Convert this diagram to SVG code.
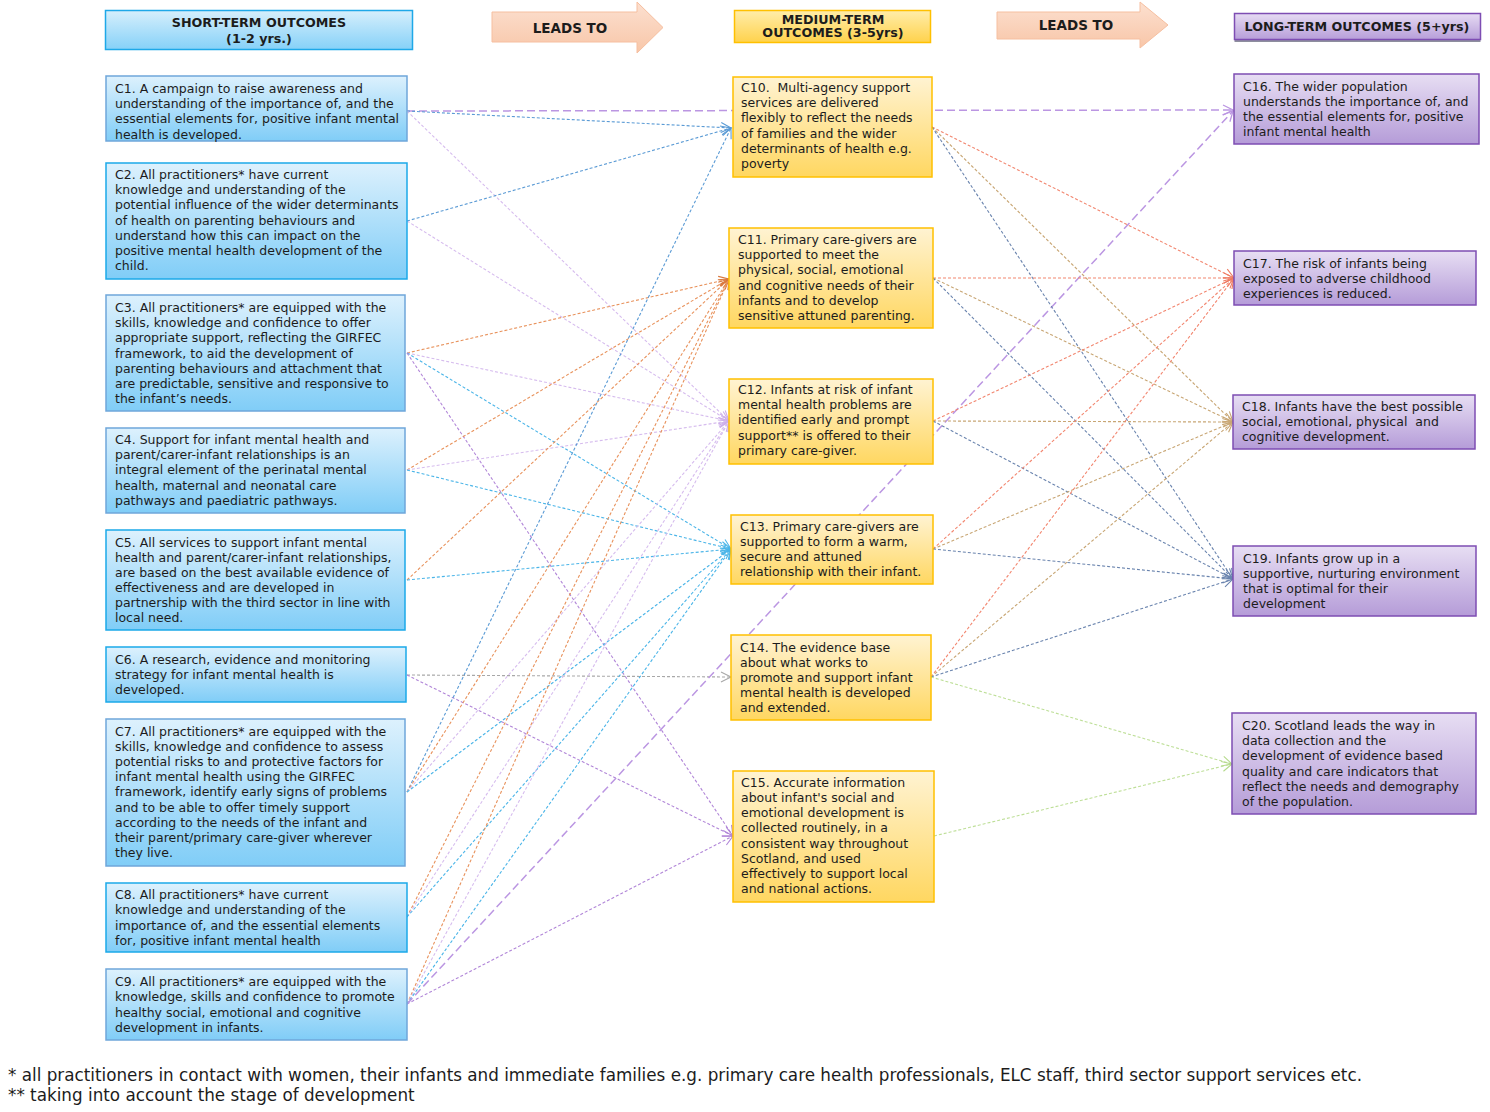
<svg xmlns="http://www.w3.org/2000/svg" width="1490" height="1112" viewBox="0 0 1490 1112">
<defs>
<style>
text{font-family:"DejaVu Sans","Liberation Sans",sans-serif;fill:#1c1c1c;white-space:pre}
.t{font-size:12.5px}
.h{font-size:12.7px;font-weight:bold;text-anchor:middle}
.lt{font-size:13.5px;font-weight:bold;text-anchor:middle}
.ft{font-size:16.8px}
.sb{fill:url(#gBlue);stroke:#6FA6DA;stroke-width:1.5}
.sc{fill:url(#gBlue);stroke:#1BA9E9;stroke-width:1.5}
.md{fill:url(#gYel);stroke:#FFC000;stroke-width:1.5}
.lg{fill:url(#gPur);stroke:#7E4DB3;stroke-width:1.5}
.c{fill:none;stroke-width:1.1;stroke-dasharray:3 2}
.blue{stroke:#5B9BD5;marker-end:url(#m-blue)}
.cyan{stroke:#4BB5E8;marker-end:url(#m-cyan)}
.orange{stroke:#E8925C;marker-end:url(#m-orange)}
.lilac{stroke:#D6BCEE;marker-end:url(#m-lilac)}
.purple{stroke:#B186D8;marker-end:url(#m-purple)}
.gray{stroke:#A8A8A8;marker-end:url(#m-gray)}
.dp{stroke:#BB96E2;stroke-width:1.5;stroke-dasharray:8 4;marker-end:url(#m-dp)}
.red{stroke:#F2866F;marker-end:url(#m-red)}
.tan{stroke:#C8A674;marker-end:url(#m-tan)}
.slate{stroke:#6A84AE;marker-end:url(#m-slate)}
.green{stroke:#BEDF98;marker-end:url(#m-green)}
</style>
<linearGradient id="gBlue" x1="0" y1="0" x2="0" y2="1"><stop offset="0" stop-color="#DDF1FD"/><stop offset="1" stop-color="#80CDF7"/></linearGradient>
<linearGradient id="gYel" x1="0" y1="0" x2="0" y2="1"><stop offset="0" stop-color="#FFF3D2"/><stop offset="1" stop-color="#FFD761"/></linearGradient>
<linearGradient id="gPur" x1="0" y1="0" x2="0" y2="1"><stop offset="0" stop-color="#E7DEF3"/><stop offset="1" stop-color="#B59CD8"/></linearGradient>
<linearGradient id="gHB" x1="0" y1="0" x2="0" y2="1"><stop offset="0" stop-color="#D6EFFC"/><stop offset="1" stop-color="#86D1F8"/></linearGradient>
<linearGradient id="gHY" x1="0" y1="0" x2="0" y2="1"><stop offset="0" stop-color="#FFEDAA"/><stop offset="1" stop-color="#FFD24C"/></linearGradient>
<linearGradient id="gHP" x1="0" y1="0" x2="0" y2="1"><stop offset="0" stop-color="#E6DBF3"/><stop offset="1" stop-color="#B79ED9"/></linearGradient>
<linearGradient id="gAr" x1="0" y1="0" x2="0" y2="1"><stop offset="0" stop-color="#FCE0D0"/><stop offset="1" stop-color="#F8C6A8"/></linearGradient>
<marker id="m-blue" markerUnits="userSpaceOnUse" markerWidth="12" markerHeight="12" refX="10" refY="5" orient="auto" overflow="visible"><path d="M0,0 L10,5 L0,10" fill="none" stroke="#5B9BD5" stroke-width="1.1"/></marker>
<marker id="m-cyan" markerUnits="userSpaceOnUse" markerWidth="12" markerHeight="12" refX="10" refY="5" orient="auto" overflow="visible"><path d="M0,0 L10,5 L0,10" fill="none" stroke="#4BB5E8" stroke-width="1.1"/></marker>
<marker id="m-orange" markerUnits="userSpaceOnUse" markerWidth="12" markerHeight="12" refX="10" refY="5" orient="auto" overflow="visible"><path d="M0,0 L10,5 L0,10" fill="none" stroke="#D9783E" stroke-width="1.1"/></marker>
<marker id="m-lilac" markerUnits="userSpaceOnUse" markerWidth="12" markerHeight="12" refX="10" refY="5" orient="auto" overflow="visible"><path d="M0,0 L10,5 L0,10" fill="none" stroke="#CDAEEA" stroke-width="1.1"/></marker>
<marker id="m-purple" markerUnits="userSpaceOnUse" markerWidth="12" markerHeight="12" refX="10" refY="5" orient="auto" overflow="visible"><path d="M0,0 L10,5 L0,10" fill="none" stroke="#B186D8" stroke-width="1.1"/></marker>
<marker id="m-gray" markerUnits="userSpaceOnUse" markerWidth="12" markerHeight="12" refX="10" refY="5" orient="auto" overflow="visible"><path d="M0,0 L10,5 L0,10" fill="none" stroke="#A8A8A8" stroke-width="1.1"/></marker>
<marker id="m-dp" markerUnits="userSpaceOnUse" markerWidth="12" markerHeight="12" refX="10" refY="5" orient="auto" overflow="visible"><path d="M0,0 L10,5 L0,10" fill="none" stroke="#BB96E2" stroke-width="1.3"/></marker>
<marker id="m-red" markerUnits="userSpaceOnUse" markerWidth="12" markerHeight="12" refX="10" refY="5" orient="auto" overflow="visible"><path d="M0,0 L10,5 L0,10" fill="none" stroke="#EE7A62" stroke-width="1.1"/></marker>
<marker id="m-tan" markerUnits="userSpaceOnUse" markerWidth="12" markerHeight="12" refX="10" refY="5" orient="auto" overflow="visible"><path d="M0,0 L10,5 L0,10" fill="none" stroke="#C8A674" stroke-width="1.1"/></marker>
<marker id="m-slate" markerUnits="userSpaceOnUse" markerWidth="12" markerHeight="12" refX="10" refY="5" orient="auto" overflow="visible"><path d="M0,0 L10,5 L0,10" fill="none" stroke="#6A84AE" stroke-width="1.1"/></marker>
<marker id="m-green" markerUnits="userSpaceOnUse" markerWidth="12" markerHeight="12" refX="10" refY="5" orient="auto" overflow="visible"><path d="M0,0 L10,5 L0,10" fill="none" stroke="#B5DA8C" stroke-width="1.1"/></marker>
</defs>
<rect width="1490" height="1112" fill="#FFFFFF"/>

<g id="connectors">
<line class="c dp" x1="407" y1="111" x2="1233" y2="110"/>
<line class="c blue" x1="407" y1="111" x2="731" y2="128"/>
<line class="c lilac" x1="407" y1="111" x2="729" y2="421"/>
<line class="c blue" x1="407" y1="221" x2="731" y2="128"/>
<line class="c lilac" x1="407" y1="221" x2="729" y2="421"/>
<line class="c orange" x1="407" y1="353" x2="729" y2="279"/>
<line class="c lilac" x1="407" y1="353" x2="729" y2="421"/>
<line class="c cyan" x1="407" y1="353" x2="731" y2="549"/>
<line class="c purple" x1="407" y1="353" x2="733" y2="836"/>
<line class="c orange" x1="407" y1="470" x2="729" y2="279"/>
<line class="c lilac" x1="407" y1="470" x2="729" y2="421"/>
<line class="c cyan" x1="407" y1="470" x2="731" y2="549"/>
<line class="c orange" x1="407" y1="580" x2="729" y2="279"/>
<line class="c cyan" x1="407" y1="580" x2="731" y2="549"/>
<line class="c gray" x1="407" y1="675" x2="731" y2="677"/>
<line class="c purple" x1="407" y1="675" x2="733" y2="836"/>
<line class="c blue" x1="407" y1="792" x2="731" y2="128"/>
<line class="c orange" x1="407" y1="792" x2="729" y2="279"/>
<line class="c lilac" x1="407" y1="792" x2="729" y2="421"/>
<line class="c cyan" x1="407" y1="792" x2="731" y2="549"/>
<line class="c orange" x1="407" y1="917" x2="729" y2="279"/>
<line class="c lilac" x1="407" y1="917" x2="729" y2="421"/>
<line class="c cyan" x1="407" y1="917" x2="731" y2="549"/>
<line class="c orange" x1="407" y1="1004" x2="729" y2="279"/>
<line class="c lilac" x1="407" y1="1004" x2="729" y2="421"/>
<line class="c cyan" x1="407" y1="1004" x2="731" y2="549"/>
<line class="c purple" x1="407" y1="1004" x2="733" y2="836"/>
<line class="c dp" x1="407" y1="1004" x2="1233" y2="111"/>
<line class="c red" x1="932" y1="127" x2="1234" y2="278"/>
<line class="c tan" x1="932" y1="127" x2="1233" y2="422"/>
<line class="c slate" x1="932" y1="127" x2="1233" y2="579"/>
<line class="c red" x1="933" y1="278" x2="1234" y2="278"/>
<line class="c tan" x1="933" y1="278" x2="1233" y2="422"/>
<line class="c slate" x1="933" y1="278" x2="1233" y2="579"/>
<line class="c red" x1="933" y1="421" x2="1234" y2="278"/>
<line class="c tan" x1="933" y1="421" x2="1233" y2="422"/>
<line class="c slate" x1="933" y1="421" x2="1233" y2="579"/>
<line class="c red" x1="933" y1="549" x2="1234" y2="278"/>
<line class="c tan" x1="933" y1="549" x2="1233" y2="422"/>
<line class="c slate" x1="933" y1="549" x2="1233" y2="579"/>
<line class="c red" x1="931" y1="677" x2="1234" y2="278"/>
<line class="c tan" x1="931" y1="677" x2="1233" y2="422"/>
<line class="c slate" x1="931" y1="677" x2="1233" y2="579"/>
<line class="c green" x1="931" y1="677" x2="1232" y2="764"/>
<line class="c green" x1="934" y1="836" x2="1232" y2="764"/>
</g>

<g id="h-short">
<rect x="105.5" y="10.5" width="307" height="39" fill="url(#gHB)" stroke="#1EA8E8" stroke-width="1.5"/>
<text class="h" x="259" y="27">SHORT-TERM OUTCOMES</text>
<text class="h" x="259" y="43">(1-2 yrs.)</text>
</g>
<g id="leads1">
<path d="M492,12 H637 V2 L663,27.5 L637,53 V42 H492 Z" fill="url(#gAr)" stroke="#F6BFA0" stroke-width="1"/>
<text class="lt" x="570" y="33">LEADS TO</text>
</g>
<g id="h-medium">
<rect x="734.5" y="10.5" width="196" height="32" fill="url(#gHY)" stroke="#FFC000" stroke-width="1.5"/>
<text class="h" x="833" y="24">MEDIUM-TERM</text>
<text class="h" x="833" y="37">OUTCOMES (3-5yrs)</text>
</g>
<g id="leads2">
<path d="M997,12 H1140 V2 L1168,25 L1140,48 V39 H997 Z" fill="url(#gAr)" stroke="#F6BFA0" stroke-width="1"/>
<text class="lt" x="1076" y="30">LEADS TO</text>
</g>
<g id="h-long">
<rect x="1234.5" y="15" width="246" height="27" fill="#8E8E9E"/>
<rect x="1234.5" y="13.5" width="246" height="26" fill="url(#gHP)" stroke="#7E4DB3" stroke-width="1.5"/>
<text class="h" x="1357" y="31">LONG-TERM OUTCOMES (5+yrs)</text>
</g>

<g id="C1">
<rect class="sb" x="106" y="76" width="301" height="65"/>
<text class="t" x="115" y="93"><tspan x="115">C1. A campaign to raise awareness and</tspan><tspan x="115" dy="15.2">understanding of the importance of, and the</tspan><tspan x="115" dy="15.2">essential elements for, positive infant mental</tspan><tspan x="115" dy="15.2">health is developed.</tspan></text>
</g>
<g id="C2">
<rect class="sc" x="106" y="163" width="301" height="116"/>
<text class="t" x="115" y="179"><tspan x="115">C2. All practitioners* have current</tspan><tspan x="115" dy="15.2">knowledge and understanding of the</tspan><tspan x="115" dy="15.2">potential influence of the wider determinants</tspan><tspan x="115" dy="15.2">of health on parenting behaviours and</tspan><tspan x="115" dy="15.2">understand how this can impact on the</tspan><tspan x="115" dy="15.2">positive mental health development of the</tspan><tspan x="115" dy="15.2">child.</tspan></text>
</g>
<g id="C3">
<rect class="sb" x="106" y="295" width="299" height="116"/>
<text class="t" x="115" y="312"><tspan x="115">C3. All practitioners* are equipped with the</tspan><tspan x="115" dy="15.2">skills, knowledge and confidence to offer</tspan><tspan x="115" dy="15.2">appropriate support, reflecting the GIRFEC</tspan><tspan x="115" dy="15.2">framework, to aid the development of</tspan><tspan x="115" dy="15.2">parenting behaviours and attachment that</tspan><tspan x="115" dy="15.2">are predictable, sensitive and responsive to</tspan><tspan x="115" dy="15.2">the infant’s needs.</tspan></text>
</g>
<g id="C4">
<rect class="sb" x="106" y="428" width="299" height="85"/>
<text class="t" x="115" y="444"><tspan x="115">C4. Support for infant mental health and</tspan><tspan x="115" dy="15.2">parent/carer-infant relationships is an</tspan><tspan x="115" dy="15.2">integral element of the perinatal mental</tspan><tspan x="115" dy="15.2">health, maternal and neonatal care</tspan><tspan x="115" dy="15.2">pathways and paediatric pathways.</tspan></text>
</g>
<g id="C5">
<rect class="sc" x="106" y="530" width="299" height="100"/>
<text class="t" x="115" y="547"><tspan x="115">C5. All services to support infant mental</tspan><tspan x="115" dy="15">health and parent/carer-infant relationships,</tspan><tspan x="115" dy="15">are based on the best available evidence of</tspan><tspan x="115" dy="15">effectiveness and are developed in</tspan><tspan x="115" dy="15">partnership with the third sector in line with</tspan><tspan x="115" dy="15">local need.</tspan></text>
</g>
<g id="C6">
<rect class="sc" x="106" y="647" width="300" height="55"/>
<text class="t" x="115" y="664"><tspan x="115">C6. A research, evidence and monitoring</tspan><tspan x="115" dy="15">strategy for infant mental health is</tspan><tspan x="115" dy="15">developed.</tspan></text>
</g>
<g id="C7">
<rect class="sb" x="106" y="719" width="299" height="147"/>
<text class="t" x="115" y="736"><tspan x="115">C7. All practitioners* are equipped with the</tspan><tspan x="115" dy="15.1">skills, knowledge and confidence to assess</tspan><tspan x="115" dy="15.1">potential risks to and protective factors for</tspan><tspan x="115" dy="15.1">infant mental health using the GIRFEC</tspan><tspan x="115" dy="15.1">framework, identify early signs of problems</tspan><tspan x="115" dy="15.1">and to be able to offer timely support</tspan><tspan x="115" dy="15.1">according to the needs of the infant and</tspan><tspan x="115" dy="15.1">their parent/primary care-giver wherever</tspan><tspan x="115" dy="15.1">they live.</tspan></text>
</g>
<g id="C8">
<rect class="sc" x="106" y="883" width="301" height="69"/>
<text class="t" x="115" y="899"><tspan x="115">C8. All practitioners* have current</tspan><tspan x="115" dy="15.3">knowledge and understanding of the</tspan><tspan x="115" dy="15.3">importance of, and the essential elements</tspan><tspan x="115" dy="15.3">for, positive infant mental health</tspan></text>
</g>
<g id="C9">
<rect class="sb" x="106" y="969" width="301" height="71"/>
<text class="t" x="115" y="986"><tspan x="115">C9. All practitioners* are equipped with the</tspan><tspan x="115" dy="15.3">knowledge, skills and confidence to promote</tspan><tspan x="115" dy="15.3">healthy social, emotional and cognitive</tspan><tspan x="115" dy="15.3">development in infants.</tspan></text>
</g>

<g id="C10">
<rect class="md" x="733" y="77" width="199" height="100"/>
<text class="t" x="741" y="92"><tspan x="741">C10.  Multi-agency support</tspan><tspan x="741" dy="15.2">services are delivered</tspan><tspan x="741" dy="15.2">flexibly to reflect the needs</tspan><tspan x="741" dy="15.2">of families and the wider</tspan><tspan x="741" dy="15.2">determinants of health e.g.</tspan><tspan x="741" dy="15.2">poverty</tspan></text>
</g>
<g id="C11">
<rect class="md" x="729" y="228" width="204" height="100"/>
<text class="t" x="738" y="244"><tspan x="738">C11. Primary care-givers are</tspan><tspan x="738" dy="15.2">supported to meet the</tspan><tspan x="738" dy="15.2">physical, social, emotional</tspan><tspan x="738" dy="15.2">and cognitive needs of their</tspan><tspan x="738" dy="15.2">infants and to develop</tspan><tspan x="738" dy="15.2">sensitive attuned parenting.</tspan></text>
</g>
<g id="C12">
<rect class="md" x="729" y="379" width="204" height="85"/>
<text class="t" x="738" y="394"><tspan x="738">C12. Infants at risk of infant</tspan><tspan x="738" dy="15.2">mental health problems are</tspan><tspan x="738" dy="15.2">identified early and prompt</tspan><tspan x="738" dy="15.2">support** is offered to their</tspan><tspan x="738" dy="15.2">primary care-giver.</tspan></text>
</g>
<g id="C13">
<rect class="md" x="731" y="515" width="202" height="69"/>
<text class="t" x="740" y="531"><tspan x="740">C13. Primary care-givers are</tspan><tspan x="740" dy="15">supported to form a warm,</tspan><tspan x="740" dy="15">secure and attuned</tspan><tspan x="740" dy="15">relationship with their infant.</tspan></text>
</g>
<g id="C14">
<rect class="md" x="731" y="635" width="200" height="85"/>
<text class="t" x="740" y="652"><tspan x="740">C14. The evidence base</tspan><tspan x="740" dy="15">about what works to</tspan><tspan x="740" dy="15">promote and support infant</tspan><tspan x="740" dy="15">mental health is developed</tspan><tspan x="740" dy="15">and extended.</tspan></text>
</g>
<g id="C15">
<rect class="md" x="733" y="771" width="201" height="131"/>
<text class="t" x="741" y="787"><tspan x="741">C15. Accurate information</tspan><tspan x="741" dy="15.14">about infant's social and</tspan><tspan x="741" dy="15.14">emotional development is</tspan><tspan x="741" dy="15.14">collected routinely, in a</tspan><tspan x="741" dy="15.14">consistent way throughout</tspan><tspan x="741" dy="15.14">Scotland, and used</tspan><tspan x="741" dy="15.14">effectively to support local</tspan><tspan x="741" dy="15.14">and national actions.</tspan></text>
</g>

<g id="C16">
<rect class="lg" x="1234" y="74" width="245" height="70"/>
<text class="t" x="1243" y="91"><tspan x="1243">C16. The wider population</tspan><tspan x="1243" dy="15">understands the importance of, and</tspan><tspan x="1243" dy="15">the essential elements for, positive</tspan><tspan x="1243" dy="15">infant mental health</tspan></text>
</g>
<g id="C17">
<rect class="lg" x="1234" y="251" width="242" height="54"/>
<text class="t" x="1243" y="268"><tspan x="1243">C17. The risk of infants being</tspan><tspan x="1243" dy="15">exposed to adverse childhood</tspan><tspan x="1243" dy="15">experiences is reduced.</tspan></text>
</g>
<g id="C18">
<rect class="lg" x="1233" y="395" width="242" height="54"/>
<text class="t" x="1242" y="411"><tspan x="1242">C18. Infants have the best possible</tspan><tspan x="1242" dy="15">social, emotional, physical  and</tspan><tspan x="1242" dy="15">cognitive development.</tspan></text>
</g>
<g id="C19">
<rect class="lg" x="1233" y="546" width="243" height="70"/>
<text class="t" x="1243" y="563"><tspan x="1243">C19. Infants grow up in a</tspan><tspan x="1243" dy="15">supportive, nurturing environment</tspan><tspan x="1243" dy="15">that is optimal for their</tspan><tspan x="1243" dy="15">development</tspan></text>
</g>
<g id="C20">
<rect class="lg" x="1232" y="713" width="244" height="101"/>
<text class="t" x="1242" y="730"><tspan x="1242">C20. Scotland leads the way in</tspan><tspan x="1242" dy="15.2">data collection and the</tspan><tspan x="1242" dy="15.2">development of evidence based</tspan><tspan x="1242" dy="15.2">quality and care indicators that</tspan><tspan x="1242" dy="15.2">reflect the needs and demography</tspan><tspan x="1242" dy="15.2">of the population.</tspan></text>
</g>

<g id="footer">
<text class="ft" x="8" y="1081">* all practitioners in contact with women, their infants and immediate families e.g. primary care health professionals, ELC staff, third sector support services etc.</text>
<text class="ft" x="8" y="1101">** taking into account the stage of development</text>
</g>
</svg>
